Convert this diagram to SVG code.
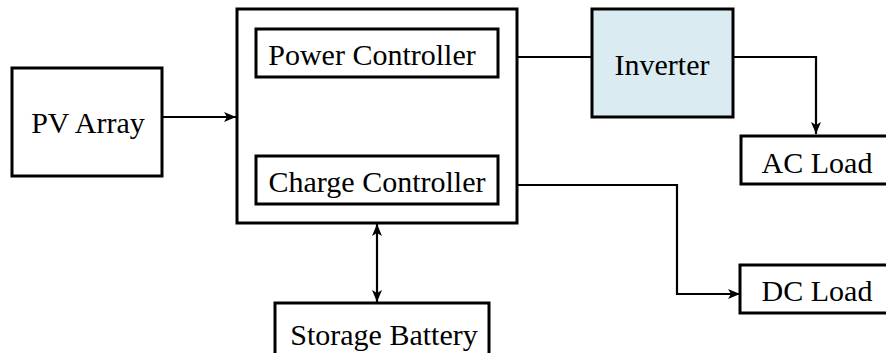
<svg xmlns="http://www.w3.org/2000/svg" width="886" height="353" viewBox="0 0 886 353">
<style>
.box{fill:#fff;stroke:#000;stroke-width:3}
.inv{fill:#daecf2;stroke:#000;stroke-width:3}
.lbl{font-family:"Liberation Serif","Times New Roman",serif;font-size:30px;fill:#000;text-anchor:middle}
.wire{fill:none;stroke:#000;stroke-width:2.2}
</style>
<defs>
<marker id="ah" viewBox="0 0 12 10" refX="12" refY="5" markerWidth="12" markerHeight="10" markerUnits="userSpaceOnUse" orient="auto-start-reverse">
<path d="M0,0 L12,5 L0,10 L3,5 z" fill="#000"/>
</marker>
</defs>
<rect width="886" height="353" fill="#fff"/>
<g id="connectors">
<line class="wire" x1="162" y1="117" x2="236" y2="117" marker-end="url(#ah)"/>
<line class="wire" x1="377" y1="77" x2="377" y2="156"/>
<line class="wire" x1="517" y1="57" x2="592" y2="57"/>
<polyline class="wire" points="733,57 816,57 816,134" marker-end="url(#ah)"/>
<polyline class="wire" points="517,185 677,185 677,294 740,294" marker-end="url(#ah)"/>
<line class="wire" x1="377" y1="224" x2="377" y2="302" marker-start="url(#ah)" marker-end="url(#ah)"/>
</g>
<g id="pv-array">
<rect class="box" x="12" y="68" width="150" height="108"/>
<text class="lbl" x="88" y="133">PV Array</text>
</g>
<g id="main-unit">
<rect class="box" x="237" y="9" width="280" height="214"/>
</g>
<g id="power-controller">
<rect class="box" x="256" y="29" width="242" height="48"/>
<text class="lbl" x="372" y="65">Power Controller</text>
</g>
<g id="charge-controller">
<rect class="box" x="256" y="156" width="242" height="48"/>
<text class="lbl" x="377" y="192">Charge Controller</text>
</g>
<g id="inverter">
<rect class="inv" x="592" y="9" width="141" height="108"/>
<text class="lbl" x="662" y="75">Inverter</text>
</g>
<g id="ac-load">
<rect class="box" x="741" y="136" width="150" height="48"/>
<text class="lbl" x="817" y="173">AC Load</text>
</g>
<g id="dc-load">
<rect class="box" x="740" y="265" width="151" height="48"/>
<text class="lbl" x="817" y="301">DC Load</text>
</g>
<g id="storage-battery">
<rect class="box" x="275" y="303" width="214" height="53"/>
<text class="lbl" x="384" y="345">Storage Battery</text>
</g>
</svg>
